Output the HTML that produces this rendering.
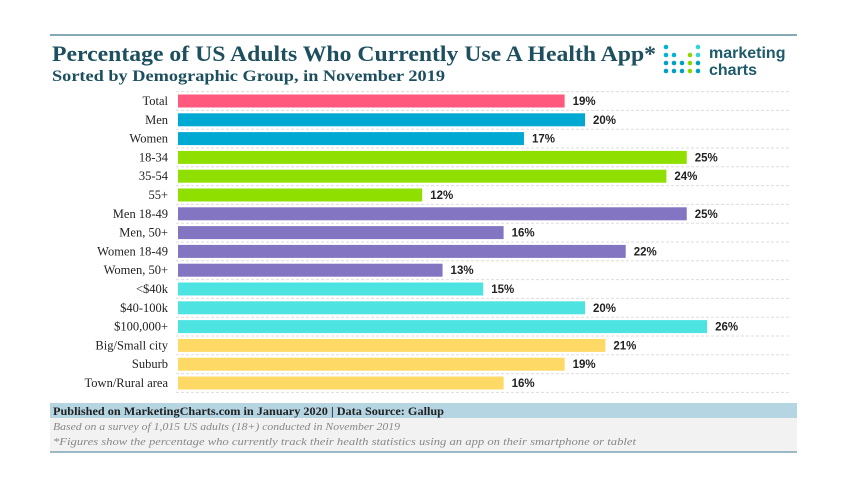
<!DOCTYPE html>
<html><head><meta charset="utf-8"><style>
body{margin:0;background:#fff;width:847px;height:486px;overflow:hidden;font-family:"Liberation Serif",serif}
svg text{font-family:"Liberation Serif",serif}
</style></head><body>
<svg width="847" height="486">
<line x1="50" y1="35" x2="797" y2="35" stroke="#86a9b8" stroke-width="2"/>
<text x="52" y="61" font-size="22" font-weight="bold" fill="#1d4f5f" textLength="604" lengthAdjust="spacingAndGlyphs">Percentage of US Adults Who Currently Use A Health App*</text>
<text x="52" y="81" font-size="16" font-weight="bold" fill="#1d4f5f" textLength="393" lengthAdjust="spacingAndGlyphs">Sorted by Demographic Group, in November 2019</text>
<g id="logo"></g>
<text x="709" y="58" font-size="16" font-weight="bold" fill="#1d5a6a" style="font-family:'Liberation Sans',sans-serif">marketing</text>
<text x="709" y="75" font-size="16" font-weight="bold" fill="#1d5a6a" style="font-family:'Liberation Sans',sans-serif">charts</text>
<g id="plot"></g>
<rect x="50" y="403" width="747" height="15" fill="#b5d5e2"/>
<text x="53" y="415" font-size="11.5" font-weight="bold" fill="#222" textLength="391" lengthAdjust="spacingAndGlyphs">Published on MarketingCharts.com in January 2020 | Data Source: Gallup</text>
<rect x="50" y="418" width="747" height="34" fill="#f2f2f2"/>
<line x1="50" y1="452" x2="797" y2="452" stroke="#7fa3b3" stroke-width="1.5"/>
<text x="53" y="430" font-size="10" font-style="italic" fill="#888" textLength="347" lengthAdjust="spacingAndGlyphs">Based on a survey of 1,015 US adults (18+) conducted in November 2019</text>
<text x="53" y="445" font-size="10" font-style="italic" fill="#888" textLength="583" lengthAdjust="spacingAndGlyphs">*Figures show the percentage who currently track their health statistics using an app on their smartphone or tablet</text>
</svg>
<script>
const categories=["Total","Men","Women","18-34","35-54","55+","Men 18-49","Men, 50+","Women 18-49","Women, 50+","<$40k","$40-100k","$100,000+","Big/Small city","Suburb","Town/Rural area"];
const values=[19,20,17,25,24,12,25,16,22,13,15,20,26,21,19,16];
const groups=[0,1,1,2,2,2,3,3,3,3,4,4,4,5,5,5];
const groupColors=["#ff5a7e","#00a9d1","#8fe000","#8475c2","#4de3e0","#ffd966"];
const ns="http://www.w3.org/2000/svg";
const plot=document.getElementById("plot");
const x0=178,scale=20.35,yTop=101,step=18.8,bh=13;
const xs=v=>x0+v*scale;
const yc=i=>yTop+i*step;
function mk(tag,attrs){const e=document.createElementNS(ns,tag);for(const k in attrs)e.setAttribute(k,attrs[k]);return e;}
for(let i=0;i<=categories.length;i++){
  const g=mk("line",{x1:176,x2:790,y1:yTop-step/2+i*step,y2:yTop-step/2+i*step,stroke:"#ddd","stroke-dasharray":"3,2"});
  
  
  plot.appendChild(g);
}
categories.forEach((c,i)=>{
  const r=mk("rect",{x:x0,y:yc(i)-bh/2,width:xs(values[i])-x0,height:bh,fill:groupColors[groups[i]]});
  
  
  plot.appendChild(r);
  const t=mk("text",{x:168,y:yc(i)+4,"text-anchor":"end","font-size":"12.5",fill:"#222"});
  t.textContent=c;
  
  
  plot.appendChild(t);
  const v=mk("text",{x:xs(values[i])+8,y:yc(i)+4,"font-size":"11.5","font-weight":"bold",fill:"#222",style:"font-family:'Liberation Sans',sans-serif"});
  v.textContent=values[i]+"%";
  
  
  plot.appendChild(v);
});
const logo=document.getElementById("logo");
const cols=[[1,1,1,1],[0,1,1,1],[0,0,1,1],[0,1,1,1],[1,1,1,1]];
const dotColors=[["#00b5d1","#00b5d1","#00a0c0","#00a0c0"],["","#00b5d1","#00a0c0","#00a0c0"],["","","#00a0c0","#00a0c0"],["","#8fd400","#8fd400","#8fd400"],["#30d6d6","#30d6d6","#00a0c0","#00a0c0"]];
cols.forEach((col,ci)=>col.forEach((on,ri)=>{if(!on)return;
  const d=mk("circle",{cx:666+ci*8,cy:47+ri*8,r:2.3,fill:dotColors[ci][ri]});
  
  
  logo.appendChild(d);}));
</script>
</body></html>
